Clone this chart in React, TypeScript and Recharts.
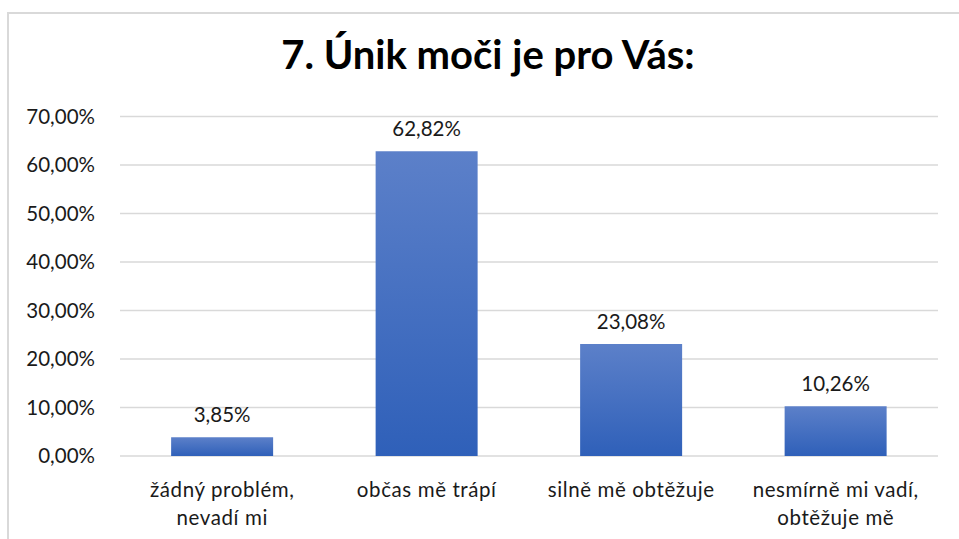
import React from "react";
import { BarChart, Bar, XAxis, YAxis, CartesianGrid, LabelList } from "recharts";

const title = "7. Únik moči je pro Vás:";
const categories = [
  "žádný problém, nevadí mi",
  "občas mě trápí",
  "silně mě obtěžuje",
  "nesmírně mi vadí, obtěžuje mě",
];
const values = [3.85, 62.82, 23.08, 10.26];
const yTicks = [0, 10, 20, 30, 40, 50, 60, 70];

const data = categories.map((c, i) => ({ name: c, value: values[i] }));

const FONT = "Lato, 'Open Sans', sans-serif";
const fmt = (v: number) => v.toFixed(2).replace(".", ",") + "%";

const CatTick = (props: any) => {
  const { x, y, payload } = props;
  const text: string = payload.value;
  const idx = text.indexOf(", ");
  const lines = idx >= 0 ? [text.slice(0, idx + 1), text.slice(idx + 2)] : [text];
  return (
    <g transform={`translate(${x},${y})`}>
      {lines.map((l, i) => (
        <text
          key={i}
          x={0}
          y={i * 28}
          dy={33}
          textAnchor="middle"
          fill="#1a1a1a"
          fontSize={20.5}
          fontFamily={FONT}
          letterSpacing={0.6}
        >
          {l}
        </text>
      ))}
    </g>
  );
};

export default function App() {
  return (
    <div style={{ position: "absolute", left: 0, top: 0, width: 959, height: 539, background: "#fff", overflow: "hidden" }}>
      <div
        style={{
          position: "absolute",
          left: 7,
          top: 12,
          width: 980,
          height: 560,
          border: "2px solid #d9d9d9",
          boxSizing: "border-box",
        }}
      />
      <div
        style={{
          position: "absolute",
          left: 0,
          top: 30,
          width: 976,
          textAlign: "center",
          fontFamily: FONT,
          fontWeight: 700,
          fontSize: 40,
          color: "#000",
          lineHeight: "48px",
        }}
      >
        {title}
      </div>
      <div style={{ position: "absolute", left: 0, top: 0 }}>
        <BarChart
          width={959}
          height={539}
          data={data}
          margin={{ top: 116.5, right: 21, bottom: 53, left: 0 }}
          barCategoryGap="25%"
        >
          <defs>
            <linearGradient id="barGrad" x1="0" y1="0" x2="0" y2="1">
              <stop offset="0%" stopColor="#5C80C9" />
              <stop offset="100%" stopColor="#2F60B9" />
            </linearGradient>
          </defs>
          <CartesianGrid vertical={false} stroke="#d9d9d9" strokeWidth={1.5} />
          <XAxis
            dataKey="name"
            axisLine={false}
            tickLine={false}
            tick={<CatTick />}
            interval={0}
          />
          <YAxis
            width={120}
            domain={[0, 70]}
            ticks={yTicks}
            tickFormatter={fmt}
            axisLine={false}
            tickLine={false}
            tickSize={0}
            tickMargin={25}
            tick={{ fill: "#1a1a1a", fontSize: 20.5, fontFamily: FONT }}
          />
          <Bar dataKey="value" fill="url(#barGrad)" isAnimationActive={false}>
            <LabelList
              dataKey="value"
              position="top"
              offset={15}
              formatter={(v: any) => fmt(Number(v))}
              style={{ fill: "#1a1a1a", fontSize: 20.5, fontFamily: FONT }}
            />
          </Bar>
        </BarChart>
      </div>
    </div>
  );
}
